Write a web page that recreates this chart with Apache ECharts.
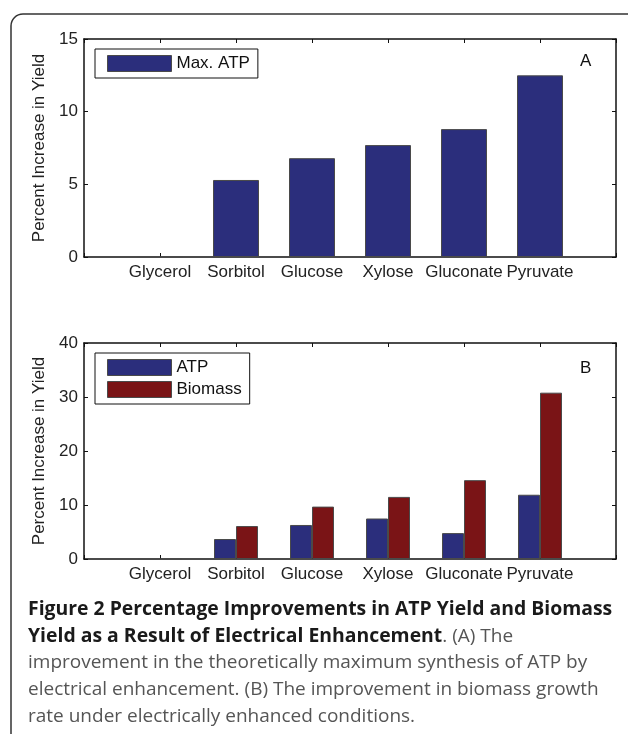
<!DOCTYPE html>
<html>
<head>
<meta charset="utf-8">
<script src="https://cdn.jsdelivr.net/npm/echarts@6/dist/echarts.min.js"></script>
<style>
  html, body { margin: 0; padding: 0; background: #fff; }
  #chart { width: 628px; height: 734px; }
</style>
</head>
<body>
<div id="chart"></div>
<script>
const substrates = ['Glycerol', 'Sorbitol', 'Glucose', 'Xylose', 'Gluconate', 'Pyruvate'];
const maxAtp = [0, 5.3, 6.8, 7.7, 8.8, 12.5];
const atp = [0, 3.7, 6.3, 7.5, 4.8, 11.9];
const biomass = [0, 6.1, 9.7, 11.5, 14.6, 30.8];
const yTicksA = [0, 15, 5];
const yTicksB = [0, 40, 10];

const BLUE = '#2b2e7c';
const RED = '#7a1416';
const FONT = '"Liberation Sans", Arial, sans-serif';
const CAP = '"Open Sans", "Noto Sans", sans-serif';

const pairs = vals => vals.map((v, i) => [i + 1, v]);

const chart = echarts.init(document.getElementById('chart'));

function xAxes(gridIndex) {
  const base = {
    gridIndex: gridIndex,
    type: 'value',
    min: 0, max: 7, interval: 1,
    splitLine: { show: false },
    axisLine: { show: true, onZero: false, lineStyle: { color: '#111', width: 1.5 } },
    axisTick: { show: true, inside: true, length: 4, lineStyle: { color: '#111' } }
  };
  return [
    Object.assign({}, base, {
      position: 'bottom',
      axisLabel: {
        margin: 7, fontFamily: FONT, fontSize: 17, color: '#222',
        formatter: v => substrates[v - 1] || ''
      }
    }),
    Object.assign({}, base, { position: 'top', axisLabel: { show: false } })
  ];
}

function yAxes(gridIndex, t) {
  const base = {
    gridIndex: gridIndex,
    type: 'value',
    min: t[0], max: t[1], interval: t[2],
    splitLine: { show: false },
    axisLine: { show: true, onZero: false, lineStyle: { color: '#111', width: 1.5 } },
    axisTick: { show: true, inside: true, length: 4, lineStyle: { color: '#111' } }
  };
  return [
    Object.assign({}, base, {
      position: 'left',
      name: 'Percent Increase in Yield',
      nameLocation: 'middle',
      nameGap: 36,
      nameTextStyle: { fontFamily: FONT, fontSize: 17, color: '#222' },
      axisLabel: { margin: 6, fontFamily: FONT, fontSize: 17, color: '#222' }
    }),
    Object.assign({}, base, { position: 'right', axisLabel: { show: false } })
  ];
}

const barStyle = c => ({ color: c, borderColor: '#4a4a4a', borderWidth: 1 });

const legendBase = {
  orient: 'vertical',
  left: 95,
  icon: 'rect',
  itemWidth: 64,
  itemHeight: 16,
  itemGap: 5,
  padding: [6, 8, 6, 12],
  borderColor: '#111',
  borderWidth: 1,
  backgroundColor: '#fff',
  selectedMode: false,
  itemStyle: { borderColor: '#4a4a4a', borderWidth: 1 },
  textStyle: { fontFamily: FONT, fontSize: 17, color: '#111' }
};

const capTop = 600;
const capStep = 26.7;

chart.setOption({
  animation: false,
  backgroundColor: '#fff',
  grid: [
    { left: 84, top: 39, width: 532, height: 218 },
    { left: 84, top: 343, width: 532, height: 216 }
  ],
  xAxis: xAxes(0).concat(xAxes(1)),
  yAxis: yAxes(0, yTicksA).concat(yAxes(1, yTicksB)),
  legend: [
    Object.assign({}, legendBase, { top: 49, data: ['Max. ATP'] }),
    Object.assign({}, legendBase, { top: 353, data: ['ATP', 'Biomass'] })
  ],
  series: [
    {
      name: 'Max. ATP', type: 'bar', xAxisIndex: 0, yAxisIndex: 0,
      barWidth: 46, data: pairs(maxAtp), itemStyle: barStyle(BLUE)
    },
    {
      name: 'ATP', type: 'bar', xAxisIndex: 2, yAxisIndex: 2,
      barWidth: 22, barGap: '0%', data: pairs(atp), itemStyle: barStyle(BLUE)
    },
    {
      name: 'Biomass', type: 'bar', xAxisIndex: 2, yAxisIndex: 2,
      barWidth: 22, barGap: '0%', data: pairs(biomass), itemStyle: barStyle(RED)
    }
  ],
  graphic: [
    {
      type: 'rect', z: -1, silent: true,
      shape: { x: 11, y: 14, width: 700, height: 800, r: 12 },
      style: { fill: 'none', stroke: '#333', lineWidth: 1.5 }
    },
    { type: 'text', left: 580, top: 53, style: { text: 'A', font: '17px ' + FONT, fill: '#111' } },
    { type: 'text', left: 580, top: 360, style: { text: 'B', font: '17px ' + FONT, fill: '#111' } },
    {
      type: 'text', left: 28, top: capTop,
      style: {
        text: '{b|Figure 2 Percentage Improvements in ATP Yield and Biomass}',
        rich: { b: { fontFamily: CAP, fontWeight: 'bold', fontSize: 19.4, fill: '#1a1a1a' } }
      }
    },
    {
      type: 'text', left: 28, top: capTop + capStep,
      style: {
        text: '{b|Yield as a Result of Electrical Enhancement}{r|. (A) The}',
        rich: {
          b: { fontFamily: CAP, fontWeight: 'bold', fontSize: 19.4, fill: '#1a1a1a' },
          r: { fontFamily: CAP, fontSize: 19, fill: '#555' }
        }
      }
    },
    { type: 'text', left: 28, top: capTop + 2 * capStep, style: { text: 'improvement in the theoretically maximum synthesis of ATP by', font: '19px ' + CAP, fill: '#555' } },
    { type: 'text', left: 28, top: capTop + 3 * capStep, style: { text: 'electrical enhancement. (B) The improvement in biomass growth', font: '19px ' + CAP, fill: '#555' } },
    { type: 'text', left: 28, top: capTop + 4 * capStep, style: { text: 'rate under electrically enhanced conditions.', font: '19px ' + CAP, fill: '#555' } }
  ]
});
</script>
</body>
</html>
